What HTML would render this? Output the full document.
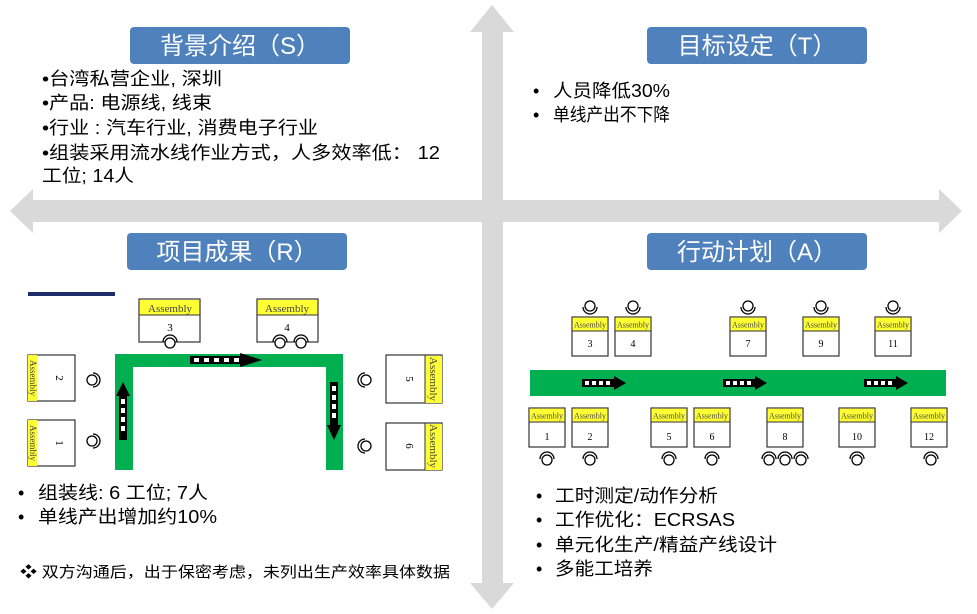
<!DOCTYPE html>
<html><head><meta charset="utf-8"><style>
body{margin:0;background:#fff;}
svg{display:block;font-family:"Liberation Sans","Noto Sans CJK SC",sans-serif;}
</style></head><body>
<svg width="977" height="614" viewBox="0 0 977 614" xmlns="http://www.w3.org/2000/svg">
<defs>
<g id="op"><circle cx="0" cy="0" r="5" fill="#fff" stroke="#000" stroke-width="1.3"/><path d="M-7,1 A7,7 0 0 0 7,1" fill="none" stroke="#000" stroke-width="1.3"/></g>
<g id="opu"><circle cx="0" cy="0" r="5" fill="#fff" stroke="#000" stroke-width="1.3"/><path d="M-7,-1 A7,7 0 0 1 7,-1" fill="none" stroke="#000" stroke-width="1.3"/></g>
<g id="bx"><rect x="0" y="0" width="36" height="39" fill="#fff" stroke="#333" stroke-width="1.2"/><rect x="0.6" y="0.6" width="34.8" height="13" fill="#ffff33"/><line x1="0" y1="14" x2="36" y2="14" stroke="#333"/><text x="18" y="10.5" font-size="8" text-anchor="middle" font-family="Liberation Serif,serif" fill="#444">Assembly</text></g>
</defs>
<g fill="#d9d9d9">
<rect x="482" y="30" width="21" height="555"/>
<polygon points="492,5 514,32 470,32"/>
<polygon points="492,609 514,583 470,583"/>
<rect x="30" y="200" width="910" height="22"/>
<polygon points="10,211 33,189 33,233"/>
<polygon points="962,211 939,189 939,233"/>
</g>
<g fill="#4f81bd">
<rect x="130" y="27" width="220" height="37" rx="4"/>
<rect x="647" y="27" width="220" height="37" rx="4"/>
<rect x="127" y="233" width="220" height="37" rx="4"/>
<rect x="647" y="233" width="220" height="37" rx="4"/>
</g>
<g fill="#fff" font-size="24" text-anchor="middle">
<text x="240" y="54">背景介绍（S）</text>
<text x="757" y="54">目标设定（T）</text>
<text x="237" y="260">项目成果（R）</text>
<text x="757" y="260">行动计划（A）</text>
</g>
<g font-size="18" fill="#000">
<text x="42" y="85" textLength="180" lengthAdjust="spacingAndGlyphs">•台湾私营企业, 深圳</text>
<text x="42" y="109" textLength="170" lengthAdjust="spacingAndGlyphs">•产品: 电源线, 线束</text>
<text x="42" y="134" textLength="276" lengthAdjust="spacingAndGlyphs">•行业 : 汽车行业, 消费电子行业</text>
<text x="42" y="159" textLength="398" lengthAdjust="spacingAndGlyphs">•组装采用流水线作业方式，人多效率低： 12</text>
<text x="42" y="182" textLength="92" lengthAdjust="spacingAndGlyphs">工位; 14人</text>
</g>
<g font-size="18" fill="#000">
<text x="533" y="97">•</text><text x="553" y="97" textLength="117" lengthAdjust="spacingAndGlyphs">人员降低30%</text>
<text x="533" y="121">•</text><text x="553" y="121" textLength="117" lengthAdjust="spacingAndGlyphs">单线产出不下降</text>
</g>
<rect x="28" y="292" width="87" height="4" fill="#1f2d6b"/>
<path d="M115,470 V354 H343 V470 H326 V367 H133 V470 Z" fill="#00b050"/>
<rect x="190" y="356" width="50" height="8" fill="#000"/>
<g fill="#fff"><rect x="194" y="358" width="5" height="4"/><rect x="204" y="358" width="5" height="4"/><rect x="214" y="358" width="5" height="4"/><rect x="224" y="358" width="5" height="4"/><rect x="234" y="358" width="5" height="4"/></g>
<polygon points="240,353 262,360 240,367" fill="#000"/>
<rect x="119" y="395" width="8" height="45" fill="#000"/>
<g fill="#fff"><rect x="121" y="399" width="4" height="5"/><rect x="121" y="408" width="4" height="5"/><rect x="121" y="417" width="4" height="5"/><rect x="121" y="426" width="4" height="5"/></g>
<polygon points="116,396 123,382 130,396" fill="#000"/>
<rect x="330" y="382" width="8" height="45" fill="#000"/>
<g fill="#fff"><rect x="332" y="386" width="4" height="5"/><rect x="332" y="395" width="4" height="5"/><rect x="332" y="404" width="4" height="5"/><rect x="332" y="413" width="4" height="5"/></g>
<polygon points="327,425 334,440 341,425" fill="#000"/>
<g font-family="Liberation Serif,serif">
<rect x="139" y="299" width="61" height="43" fill="#fff" stroke="#333" stroke-width="1.2"/><rect x="140" y="300" width="59" height="15" fill="#ffff33"/><line x1="139" y1="315" x2="200" y2="315" stroke="#333"/>
<text x="170" y="312" font-size="11" text-anchor="middle" fill="#444">Assembly</text><text x="170" y="331" font-size="11" text-anchor="middle">3</text>
<rect x="257" y="299" width="61" height="43" fill="#fff" stroke="#333" stroke-width="1.2"/><rect x="258" y="300" width="59" height="15" fill="#ffff33"/><line x1="257" y1="315" x2="318" y2="315" stroke="#333"/>
<text x="287" y="312" font-size="11" text-anchor="middle" fill="#444">Assembly</text><text x="287" y="331" font-size="11" text-anchor="middle">4</text>
<rect x="28" y="355" width="47" height="46" fill="#fff" stroke="#333" stroke-width="1.2"/><rect x="28" y="355" width="9" height="46" fill="#ffff33"/>
<text transform="translate(56,378) rotate(90)" font-size="11" text-anchor="middle">2</text>
<text transform="translate(30,378) rotate(90)" font-size="9" text-anchor="middle" fill="#444">Assembly</text>
<rect x="28" y="420" width="47" height="46" fill="#fff" stroke="#333" stroke-width="1.2"/><rect x="28" y="420" width="9" height="46" fill="#ffff33"/>
<text transform="translate(56,443) rotate(90)" font-size="11" text-anchor="middle">1</text>
<text transform="translate(30,443) rotate(90)" font-size="9" text-anchor="middle" fill="#444">Assembly</text>
<rect x="386" y="355" width="56" height="48" fill="#fff" stroke="#333" stroke-width="1.2"/><rect x="425" y="356" width="17" height="47" fill="#ffff33"/><line x1="425" y1="355" x2="425" y2="403" stroke="#333"/>
<text transform="translate(406,379) rotate(90)" font-size="11" text-anchor="middle">5</text>
<text transform="translate(430,379) rotate(90)" font-size="11" text-anchor="middle" fill="#444">Assembly</text>
<rect x="386" y="423" width="56" height="47" fill="#fff" stroke="#333" stroke-width="1.2"/><rect x="425" y="424" width="17" height="46" fill="#ffff33"/><line x1="425" y1="423" x2="425" y2="470" stroke="#333"/>
<text transform="translate(406,446) rotate(90)" font-size="11" text-anchor="middle">6</text>
<text transform="translate(430,446) rotate(90)" font-size="11" text-anchor="middle" fill="#444">Assembly</text>
</g>
<use href="#opu" x="170" y="343"/><use href="#opu" x="280" y="343"/><use href="#opu" x="301" y="343"/>
<g transform="translate(92,380) rotate(90)"><use href="#opu"/></g>
<g transform="translate(92,441) rotate(90)"><use href="#opu"/></g>
<g transform="translate(366,380) rotate(-90)"><use href="#opu"/></g>
<g transform="translate(366,446) rotate(-90)"><use href="#opu"/></g>
<rect x="530" y="370" width="416" height="26" fill="#00b050"/>
<g>
<g transform="translate(582,379)"><rect x="0" y="0" width="32" height="8" fill="#000"/><g fill="#fff"><rect x="3" y="2" width="4" height="4"/><rect x="10" y="2" width="4" height="4"/><rect x="17" y="2" width="4" height="4"/><rect x="24" y="2" width="4" height="4"/></g><polygon points="32,-3 44,4 32,11" fill="#000"/></g>
<g transform="translate(723,379)"><rect x="0" y="0" width="32" height="8" fill="#000"/><g fill="#fff"><rect x="3" y="2" width="4" height="4"/><rect x="10" y="2" width="4" height="4"/><rect x="17" y="2" width="4" height="4"/><rect x="24" y="2" width="4" height="4"/></g><polygon points="32,-3 44,4 32,11" fill="#000"/></g>
<g transform="translate(864,379)"><rect x="0" y="0" width="32" height="8" fill="#000"/><g fill="#fff"><rect x="3" y="2" width="4" height="4"/><rect x="10" y="2" width="4" height="4"/><rect x="17" y="2" width="4" height="4"/><rect x="24" y="2" width="4" height="4"/></g><polygon points="32,-3 44,4 32,11" fill="#000"/></g>
</g>
<g font-family="Liberation Serif,serif" font-size="10" text-anchor="middle">
<use href="#bx" x="572" y="317"/><text x="590" y="347">3</text>
<use href="#bx" x="615" y="317"/><text x="633" y="347">4</text>
<use href="#bx" x="730" y="317"/><text x="748" y="347">7</text>
<use href="#bx" x="803" y="317"/><text x="821" y="347">9</text>
<use href="#bx" x="875" y="317"/><text x="893" y="347">11</text>
<use href="#bx" x="529" y="408"/><text x="547" y="440">1</text>
<use href="#bx" x="572" y="408"/><text x="590" y="440">2</text>
<use href="#bx" x="651" y="408"/><text x="669" y="440">5</text>
<use href="#bx" x="694" y="408"/><text x="712" y="440">6</text>
<use href="#bx" x="767" y="408"/><text x="785" y="440">8</text>
<use href="#bx" x="839" y="408"/><text x="857" y="440">10</text>
<use href="#bx" x="911" y="408"/><text x="929" y="440">12</text>
</g>
<use href="#op" x="590" y="306"/><use href="#op" x="633" y="306"/><use href="#op" x="748" y="306"/><use href="#op" x="821" y="306"/><use href="#op" x="893" y="306"/>
<use href="#opu" x="547" y="460"/><use href="#opu" x="590" y="460"/><use href="#opu" x="669" y="460"/><use href="#opu" x="712" y="460"/><use href="#opu" x="769" y="460"/><use href="#opu" x="785" y="460"/><use href="#opu" x="801" y="460"/><use href="#opu" x="857" y="460"/><use href="#opu" x="931" y="460"/>
<g font-size="18" fill="#000">
<text x="18" y="499">•</text><text x="38" y="499" textLength="170" lengthAdjust="spacingAndGlyphs">组装线: 6 工位; 7人</text>
<text x="18" y="523">•</text><text x="38" y="523" textLength="179" lengthAdjust="spacingAndGlyphs">单线产出增加约10%</text>
</g>
<text x="20" y="577" font-size="15" textLength="430" lengthAdjust="spacingAndGlyphs">❖ 双方沟通后，出于保密考虑，未列出生产效率具体数据</text>
<g font-size="18" fill="#000">
<text x="536" y="502">•</text><text x="555" y="502" textLength="163" lengthAdjust="spacingAndGlyphs">工时测定/动作分析</text>
<text x="536" y="526">•</text><text x="555" y="526" textLength="180" lengthAdjust="spacingAndGlyphs">工作优化：ECRSAS</text>
<text x="536" y="551">•</text><text x="555" y="551" textLength="222" lengthAdjust="spacingAndGlyphs">单元化生产/精益产线设计</text>
<text x="536" y="575">•</text><text x="555" y="575" textLength="98" lengthAdjust="spacingAndGlyphs">多能工培养</text>
</g>
</svg>
</body></html>
